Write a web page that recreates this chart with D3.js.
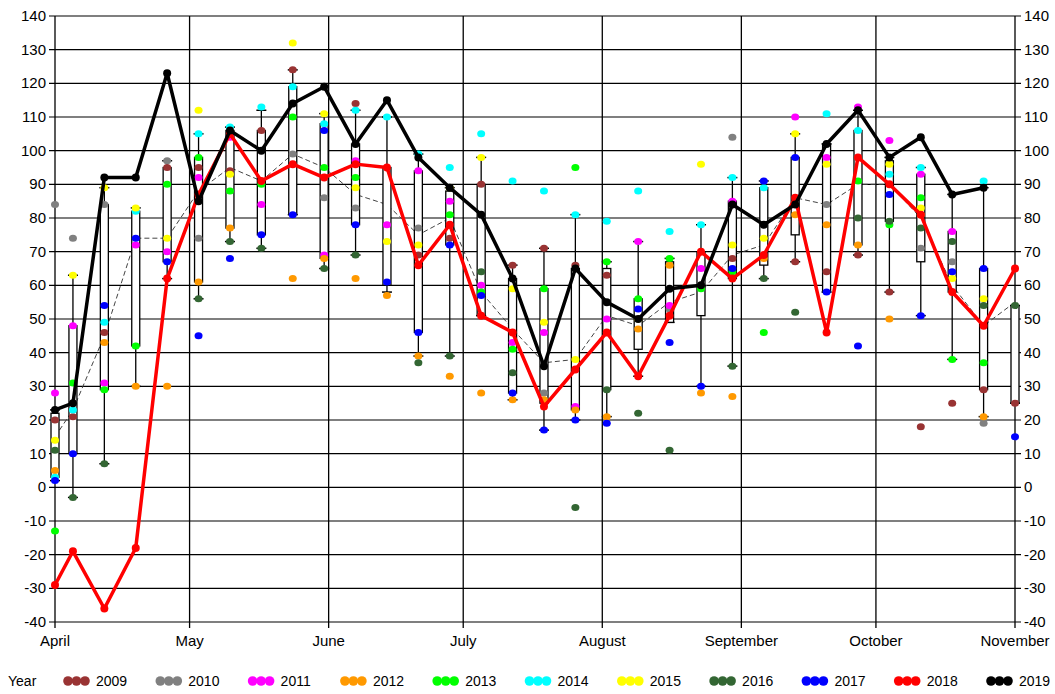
<!DOCTYPE html>
<html><head><meta charset="utf-8">
<script src="https://cdn.jsdelivr.net/npm/d3@7"></script>
<style>body{margin:0;background:#fff}svg{font-family:"Liberation Sans",Arial,sans-serif}</style>
</head><body><svg width="1055" height="694"></svg>
<script>
// weekly dates (2019 calendar)
const weeks = ["04-01","04-05","04-12","04-19","04-26","05-03","05-10","05-17","05-24","05-31","06-07","06-14","06-21","06-28","07-05","07-12","07-19","07-26","08-02","08-09","08-16","08-23","08-30","09-06","09-13","09-20","09-27","10-04","10-11","10-18","10-25","11-01"];
const months = ["April","May","June","July","August","September","October","November"];
const years = ["2009","2010","2011","2012","2013","2014","2015","2016","2017","2018","2019"];
const colors = ["#993333","#808080","#ff00ff","#ff9900","#00ff00","#00ffff","#ffff00","#336633","#0000ff","#ff0000","#000000"];

const y2009 = [20,21,46,null,95,95,94,106,124,null,114,null,69,74,90,66,71,66,63,null,null,null,68,null,67,64,69,58,18,25,29,25];
const y2010 = [84,74,84,null,97,74,null,null,99,86,83,null,77,null,null,null,28,null,null,null,53,null,104,null,null,84,null,null,71,67,19,null];
const y2011 = [28,48,31,72,70,92,104,84,null,69,97,78,94,85,60,43,46,24,50,73,54,65,85,null,110,98,113,103,93,76,null,null];
const y2012 = [5,null,43,30,30,61,77,null,62,68,62,57,39,33,28,26,26,23,21,47,66,28,27,68,81,78,72,50,81,null,21,null];
const y2013 = [-13,31,29,42,90,98,88,90,110,95,92,null,null,81,58,41,59,95,67,56,68,59,64,46,null,null,91,78,86,38,37,null];
const y2014 = [3,23,49,82,null,105,107,113,119,108,112,110,99,95,105,91,88,81,79,88,76,78,92,89,null,111,106,93,95,null,91,null];
const y2015 = [14,63,89,83,74,112,93,null,132,111,89,73,72,89,98,59,49,38,null,50,null,96,72,74,105,96,null,96,83,62,56,null];
const y2016 = [11,-3,7,null,null,56,73,71,null,65,69,null,37,39,64,34,null,-6,29,22,11,null,36,62,52,null,80,79,77,73,54,54];
const y2017 = [2,10,54,74,67,45,68,75,81,106,78,61,46,72,57,28,17,20,19,53,43,30,65,91,98,58,42,87,51,64,65,15];
const y2018 = [-29,-19,-36,-18,62,87,105,91,96,92,96,95,66,78,51,46,24,35,46,33,51,70,62,69,86,46,98,90,81,58,48,65];
const y2019 = [23,25,92,92,123,85,106,100,114,119,102,115,98,89,81,62,36,65,55,50,59,60,84,78,84,102,112,98,104,87,89,null];

const median = [15,23,45,74,74,88,95,91,99,95,87,84,75,80,58,47,37,38,51,48,55,58,69,72,86,84,90,90,80,60,48,55];
const boxLo  = [2,-3,7,30,62,56,73,71,81,65,69,58,39,39,51,26,17,20,21,33,49,30,36,62,67,58,69,58,51,38,21,25];
const boxQ1  = [3,10,29,42,67,61,77,75,81,68,78,60,46,72,51,28,25,23,29,41,49,51,62,66,75,58,72,79,67,58,29,25];
const boxQ3  = [22,48,84,82,95,98,106,106,119,108,102,95,94,88,90,62,59,65,65,56,67,70,85,89,98,102,106,97,93,76,65,54];
const boxHi  = [23,63,89,83,97,105,107,112,124,111,112,110,99,89,98,66,71,81,67,73,68,78,92,91,105,102,112,98,95,87,89,54];

const history = [y2009,y2010,y2011,y2012,y2013,y2014,y2015,y2016,y2017];

const svg = d3.select("svg");
const pl = 55, pr = 1015, pt = 16, pb = 622;
const parse = d3.timeParse("%Y-%m-%d");
const dates = weeks.map(w => parse("2019-" + w));
const x = d3.scaleTime().domain([parse("2019-04-01"), parse("2019-11-01")]).range([pl, pr]);
const y = d3.scaleLinear().domain([-40, 140]).range([pb, pt]);

// grid
const yTicks = d3.range(-40, 141, 10);
svg.append("g").selectAll("line").data(yTicks).join("line")
  .attr("x1", pl - 6).attr("x2", pr + 6)
  .attr("y1", d => y(d)).attr("y2", d => y(d))
  .attr("stroke", "#000").attr("stroke-width", 1.2);
const monthDates = months.map((m, i) => new Date(2019, 3 + i, 1));
svg.append("g").selectAll("line").data(monthDates).join("line")
  .attr("x1", d => x(d)).attr("x2", d => x(d))
  .attr("y1", pt).attr("y2", pb + 6)
  .attr("stroke", "#000").attr("stroke-width", 1.3);

// tick labels
svg.append("g").selectAll("text").data(yTicks).join("text")
  .attr("x", pl - 9).attr("y", d => y(d) + 5).attr("text-anchor", "end")
  .attr("font-size", 15).text(d => d);
svg.append("g").selectAll("text").data(yTicks).join("text")
  .attr("x", pr + 9).attr("y", d => y(d) + 5).attr("text-anchor", "start")
  .attr("font-size", 15).text(d => d);
svg.append("g").selectAll("text").data(monthDates).join("text")
  .attr("x", d => x(d)).attr("y", pb + 24).attr("text-anchor", "middle")
  .attr("font-size", 15).text((d, i) => months[i]);

// median dashed
const line = d3.line().defined(d => d[1] != null).x(d => x(d[0])).y(d => y(d[1]));
svg.append("path").attr("d", line(dates.map((d, i) => [d, median[i]])))
  .attr("fill", "none").attr("stroke", "#444").attr("stroke-width", 1).attr("stroke-dasharray", "5,3");

// boxes
const bw = 8;
const gBox = svg.append("g");
dates.forEach((d, i) => {
  const cx = x(d);
  gBox.append("line").attr("x1", cx).attr("x2", cx).attr("y1", y(boxHi[i])).attr("y2", y(boxLo[i]))
    .attr("stroke", "#000").attr("stroke-width", 1.3);
  [boxHi[i], boxLo[i]].forEach(v => gBox.append("line")
    .attr("x1", cx - 5).attr("x2", cx + 5).attr("y1", y(v)).attr("y2", y(v))
    .attr("stroke", "#000").attr("stroke-width", 1.5));
  gBox.append("rect").attr("x", cx - bw / 2).attr("width", bw)
    .attr("y", y(boxQ3[i])).attr("height", y(boxQ1[i]) - y(boxQ3[i]))
    .attr("fill", "#fff").attr("stroke", "#000").attr("stroke-width", 1.3);
});

// year dots
history.forEach((arr, k) => {
  svg.append("g").selectAll("ellipse").data(dates.map((d, i) => [d, arr[i]]).filter(p => p[1] != null)).join("ellipse")
    .attr("cx", p => x(p[0])).attr("cy", p => y(p[1])).attr("rx", 4).attr("ry", 3.5)
    .attr("fill", colors[k]);
});

// 2018 and 2019 lines
[[y2018, 9], [y2019, 10]].forEach(([arr, k]) => {
  const pts = dates.map((d, i) => [d, arr[i]]);
  svg.append("path").attr("d", line(pts)).attr("fill", "none")
    .attr("stroke", colors[k]).attr("stroke-width", 3.5).attr("stroke-linejoin", "round");
  svg.append("g").selectAll("circle").data(pts.filter(p => p[1] != null)).join("circle")
    .attr("cx", p => x(p[0])).attr("cy", p => y(p[1])).attr("r", 4).attr("fill", colors[k]);
});

// legend
const lg = svg.append("g").attr("transform", "translate(0,681)");
lg.append("text").attr("x", 8).attr("y", 5).attr("font-size", 14).text("Year");
years.forEach((yr, k) => {
  const gx = 63 + k * 92.3;
  [5, 13.5, 22].forEach(o => lg.append("circle").attr("cx", gx + o).attr("cy", 0).attr("r", 4.8).attr("fill", colors[k]));
  lg.append("text").attr("x", gx + 33).attr("y", 5).attr("font-size", 14).text(yr);
});
</script></body></html>
